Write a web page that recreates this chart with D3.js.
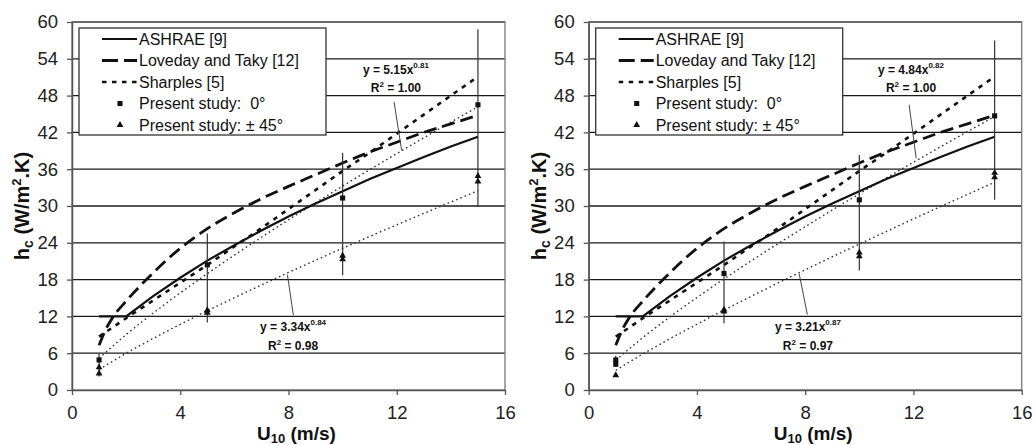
<!DOCTYPE html>
<html><head><meta charset="utf-8">
<script src="https://cdn.jsdelivr.net/npm/d3@7"></script>
<style>
body{margin:0;background:#fff;}
svg{display:block;font-family:"Liberation Sans",Arial,Helvetica,sans-serif;}
</style>
</head><body>
<svg id="c" width="1035" height="445"></svg>
<script>
// ---------- DATA ----------
const xTicks = [0, 4, 8, 12, 16];
const yTicks = [0, 6, 12, 18, 24, 30, 36, 42, 48, 54, 60];

const ashraeU = [1, 2, 3, 4, 5, 6, 7, 8, 9, 10, 11, 12, 13, 14, 15];
const ashraeH = [12, 12, 15.3, 18.3, 21.1, 23.6, 26.0, 28.3, 30.4, 32.4, 34.4, 36.2, 38.0, 39.7, 41.3];

const lovedayU = [1, 1.25, 1.5, 2, 2.5, 3, 3.5, 4, 5, 6, 7, 8, 9, 10, 11, 12, 13, 14, 15];
const lovedayH = [7.3, 9.9, 11.8, 14.5, 16.9, 19.1, 21.2, 23.1, 26.3, 28.9, 31.2, 33.2, 35.1, 37.0, 38.8, 40.4, 42.0, 43.4, 44.8];

const sharplesU = [1, 1.5, 2, 3, 4, 5, 6, 7, 8, 9, 10, 11, 12, 13, 14, 15];
const sharplesH = [8.7, 10.2, 11.7, 14.6, 17.5, 20.4, 23.4, 26.4, 29.5, 32.6, 35.7, 38.7, 41.8, 44.9, 48.0, 51.1];

const fitU = [1, 2, 3, 4, 5, 6, 7, 8, 9, 10, 11, 12, 13, 14, 15];
const fit0Left   = [5.15, 9.03, 12.54, 15.83, 18.96, 21.99, 24.91, 27.75, 30.53, 33.25, 35.92, 38.54, 41.12, 43.67, 46.18];
const fit45Left  = [3.34, 5.98, 8.40, 10.70, 12.91, 15.05, 17.12, 19.16, 21.15, 23.11, 25.03, 26.93, 28.80, 30.65, 32.49];
const fit0Right  = [4.84, 8.54, 11.92, 15.08, 18.11, 21.04, 23.87, 26.63, 29.34, 31.98, 34.58, 37.13, 39.65, 42.14, 44.59];
const fit45Right = [3.21, 5.87, 8.35, 10.72, 13.02, 15.26, 17.45, 19.60, 21.71, 23.80, 25.85, 27.89, 29.90, 31.89, 33.86];

// present study measurements
const sq0LeftU  = [1, 5, 10, 15];
const sq0LeftH  = [4.9, 20.4, 31.3, 46.5];
const tri45LeftU = [1, 1, 5, 5, 10, 10, 15, 15];
const tri45LeftH = [2.7, 3.7, 13.0, 12.6, 21.3, 21.9, 34.0, 34.9];
const errLeftU  = [1, 5, 10, 15];
const errLeftLo = [2.2, 11.0, 18.7, 29.9];
const errLeftHi = [6.0, 25.5, 38.7, 58.8];

const sq0RightU  = [1, 1, 5, 10, 15];
const sq0RightH  = [4.2, 4.9, 19.0, 31.0, 44.7];
const tri45RightU = [1, 5, 5, 10, 10, 15, 15];
const tri45RightH = [2.4, 12.8, 13.1, 21.8, 22.4, 34.7, 35.4];
const errRightU  = [1, 5, 10, 15];
const errRightLo = [3.8, 10.9, 19.5, 31.0];
const errRightHi = [5.6, 24.2, 38.3, 57.0];

const legendLabels = ["ASHRAE [9]", "Loveday and Taky [12]", "Sharples [5]", "Present study:  0\u00b0", "Present study: \u00b1 45\u00b0"];

const annLeftTop    = {text: "y = 5.15x", sup: "0.81", r2: "1.00", u: 11.97, h1: 51.5, h2: 48.6, p: [11.9, 47.0, 12.18, 39.1]};
const annLeftBottom = {text: "y = 3.34x", sup: "0.84", r2: "0.98", u: 8.17, h1: 9.6, h2: 6.5, p: [7.96, 18.8, 8.18, 12.2]};
const annRightTop   = {text: "y = 4.84x", sup: "0.82", r2: "1.00", u: 11.91, h1: 51.5, h2: 48.6, p: [11.84, 46.5, 12.1, 37.8]};
const annRightBottom= {text: "y = 3.21x", sup: "0.87", r2: "0.97", u: 8.1, h1: 9.6, h2: 6.5, p: [7.78, 18.9, 8.08, 12.3]};

// ---------- DRAW ----------
const svg = d3.select("#c");
const zip = (a, b) => a.map((v, i) => [v, b[i]]);

const panels = [
  {left: 72, fit0: fit0Left, fit45: fit45Left, sqU: sq0LeftU, sqH: sq0LeftH, trU: tri45LeftU, trH: tri45LeftH,
   eU: errLeftU, eLo: errLeftLo, eHi: errLeftHi, ann: [annLeftTop, annLeftBottom], ylabX: 29},
  {left: 588.7, fit0: fit0Right, fit45: fit45Right, sqU: sq0RightU, sqH: sq0RightH, trU: tri45RightU, trH: tri45RightH,
   eU: errRightU, eLo: errRightLo, eHi: errRightHi, ann: [annRightTop, annRightBottom], ylabX: 545.7}
];

const plotTop = 22, plotBottom = 390, pw = 433;
const triPath = d3.symbol().type(d3.symbolTriangle).size(20)();
const sqPath = d3.symbol().type(d3.symbolSquare).size(26)();

panels.forEach(P => {
  const x = d3.scaleLinear().domain([0, 16]).range([P.left, P.left + pw]);
  const y = d3.scaleLinear().domain([0, 60]).range([plotBottom, plotTop]);
  const g = svg.append("g");

  g.selectAll("line.grid").data(yTicks.slice(1)).join("line")
    .attr("x1", x(0)).attr("x2", x(16)).attr("y1", d => y(d)).attr("y2", d => y(d))
    .attr("stroke", "#1a1a1a").attr("stroke-width", 1.3);
  g.append("rect").attr("x", x(0)).attr("y", y(60)).attr("width", x(16) - x(0)).attr("height", y(0) - y(60))
    .attr("fill", "none").attr("stroke", "#777").attr("stroke-width", 1.3);

  const ya = g.append("g").attr("transform", `translate(${x(0)},0)`)
    .call(d3.axisLeft(y).tickValues(yTicks).tickSize(5).tickPadding(9).tickSizeOuter(0));
  const xa = g.append("g").attr("transform", `translate(0,${y(0)})`)
    .call(d3.axisBottom(x).tickValues(xTicks).tickSize(5).tickPadding(11).tickSizeOuter(0));
  [ya, xa].forEach(a => {
    a.select(".domain").attr("stroke", "#555").attr("stroke-width", 1.5);
    a.selectAll(".tick line").attr("stroke", "#555").attr("stroke-width", 1.3);
    a.selectAll("text").attr("font-size", 18.5).attr("fill", "#222")
      .attr("font-family", "'Liberation Sans',Arial,sans-serif");
  });

  const line = d3.line().x(d => x(d[0])).y(d => y(d[1]));
  const smooth = d3.line().x(d => x(d[0])).y(d => y(d[1])).curve(d3.curveMonotoneX);

  [P.fit0, P.fit45].forEach(f => {
    g.append("path").attr("d", smooth(zip(fitU, f))).attr("fill", "none")
      .attr("stroke", "#333").attr("stroke-width", 1.4).attr("stroke-dasharray", "1.6,3");
  });
  g.append("path").attr("d", smooth(zip(sharplesU, sharplesH))).attr("fill", "none")
    .attr("stroke", "#111").attr("stroke-width", 2.6).attr("stroke-dasharray", "4.5,5.5");
  g.append("path").attr("d", line(zip(ashraeU, ashraeH))).attr("fill", "none")
    .attr("stroke", "#111").attr("stroke-width", 2.2);
  g.append("path").attr("d", smooth(zip(lovedayU, lovedayH))).attr("fill", "none")
    .attr("stroke", "#111").attr("stroke-width", 2.8).attr("stroke-dasharray", "13,6");

  g.selectAll("line.err").data(P.eU.map((u, i) => [u, P.eLo[i], P.eHi[i]])).join("line")
    .attr("x1", d => x(d[0])).attr("x2", d => x(d[0])).attr("y1", d => y(d[1])).attr("y2", d => y(d[2]))
    .attr("stroke", "#333").attr("stroke-width", 1.2);

  g.selectAll("path.sq").data(zip(P.sqU, P.sqH)).join("path")
    .attr("d", sqPath).attr("transform", d => `translate(${x(d[0])},${y(d[1])})`).attr("fill", "#111");
  g.selectAll("path.tr").data(zip(P.trU, P.trH)).join("path")
    .attr("d", triPath).attr("transform", d => `translate(${x(d[0])},${y(d[1])})`).attr("fill", "#111");

  P.ann.forEach(A => {
    g.append("line").attr("x1", x(A.p[0])).attr("y1", y(A.p[1])).attr("x2", x(A.p[2])).attr("y2", y(A.p[3]))
      .attr("stroke", "#444").attr("stroke-width", 1);
    const t1 = g.append("text").attr("x", x(A.u)).attr("y", y(A.h1)).attr("text-anchor", "middle")
      .attr("font-size", 12).attr("font-weight", "bold").attr("fill", "#111");
    t1.append("tspan").text(A.text);
    t1.append("tspan").attr("dy", -6).attr("font-size", 8).text(A.sup);
    const t2 = g.append("text").attr("x", x(A.u)).attr("y", y(A.h2)).attr("text-anchor", "middle")
      .attr("font-size", 12).attr("font-weight", "bold").attr("fill", "#111");
    t2.append("tspan").text("R");
    t2.append("tspan").attr("dy", -5).attr("font-size", 8).text("2");
    t2.append("tspan").attr("dy", 5).text(" = " + A.r2);
  });

  const lx = P.left + 7, ly = 28;
  const lg = g.append("g").attr("transform", `translate(${lx},${ly})`);
  lg.append("rect").attr("width", 247).attr("height", 107).attr("fill", "#fff")
    .attr("stroke", "#333").attr("stroke-width", 1.3);
  const styles = [
    {type: "line", w: 2.2, dash: null},
    {type: "line", w: 2.8, dash: "16,6"},
    {type: "line", w: 2.6, dash: "4.5,5.5"},
    {type: "sq"},
    {type: "tr"}
  ];
  legendLabels.forEach((lab, i) => {
    const ry = 11 + i * 21.5;
    const s = styles[i];
    if (s.type === "line") {
      lg.append("line").attr("x1", 23).attr("x2", 58).attr("y1", ry).attr("y2", ry)
        .attr("stroke", "#111").attr("stroke-width", s.w).attr("stroke-dasharray", s.dash);
    } else {
      lg.append("path").attr("d", s.type === "sq" ? sqPath : triPath)
        .attr("transform", `translate(41,${ry})`).attr("fill", "#111");
    }
    lg.append("text").attr("x", 60).attr("y", ry).attr("dy", "0.36em")
      .attr("font-size", 16).attr("fill", "#111").text(lab).style("white-space", "pre");
  });

  const yl = svg.append("text").attr("transform", `translate(${P.ylabX},${(plotTop + plotBottom) / 2}) rotate(-90)`)
    .attr("text-anchor", "middle").attr("font-size", 20).attr("font-weight", "bold").attr("fill", "#111");
  yl.append("tspan").text("h");
  yl.append("tspan").attr("font-size", 14).attr("dy", 4).text("c");
  yl.append("tspan").attr("dy", -4).text(" (W/m");
  yl.append("tspan").attr("font-size", 13).attr("dy", -8).text("2");
  yl.append("tspan").attr("dy", 8).text(".K)");

  const xl = svg.append("text").attr("x", (x(0) + x(16)) / 2 + 8).attr("y", 440)
    .attr("text-anchor", "middle").attr("font-size", 19).attr("font-weight", "bold").attr("fill", "#111");
  xl.append("tspan").text("U");
  xl.append("tspan").attr("font-size", 13).attr("dy", 3).text("10");
  xl.append("tspan").attr("dy", -3).text(" (m/s)");
});
</script>
</body></html>
